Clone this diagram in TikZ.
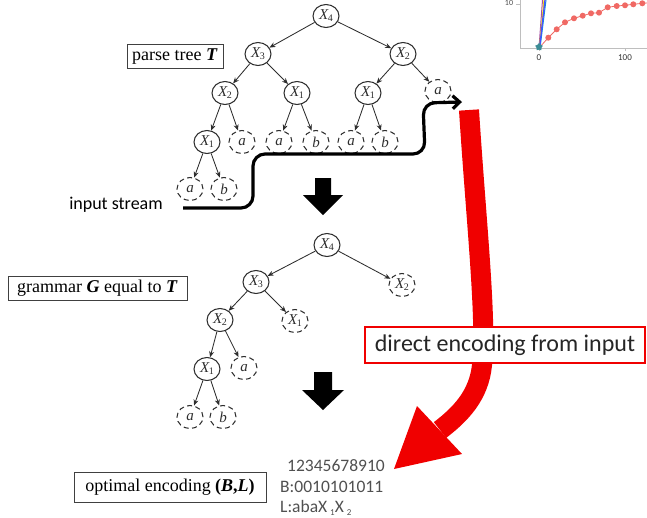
\documentclass[tikz,border=0pt]{standalone}
\usepackage{fontspec}
\setmainfont{Liberation Serif}
\newfontfamily\calfont{Carlito}
\usetikzlibrary{arrows.meta,shapes.geometric}

\definecolor{treeink}{RGB}{45,45,45}
\definecolor{codegray}{RGB}{80,80,80}
\definecolor{axisgray}{RGB}{190,190,190}
\definecolor{dotred}{RGB}{240,105,100}
\definecolor{bigred}{RGB}{240,0,0}
\definecolor{markteal}{RGB}{60,140,150}

\newcommand\Xs[1]{\textit{X}\kern-0.5pt\raisebox{-0.3ex}{\fontsize{10}{10}\selectfont\upshape #1}}
\newcommand\bi[1]{\textbf{\textit{#1}}}

\begin{document}
\begin{tikzpicture}[x=1pt,y=-1pt,
  tn/.style={ellipse, draw=treeink, line width=1.05pt, minimum width=26pt,
             minimum height=23pt, inner sep=0pt, text=treeink,
             font=\fontsize{15}{15}\selectfont\itshape},
  tl/.style={tn, dash pattern=on 5pt off 3.5pt},
  tedge/.style={draw=treeink, line width=0.85pt,
                -{Stealth[length=6pt,width=5pt]}},
  tagbox/.style={draw=black!75, line width=0.8pt, inner sep=0pt,
                 font=\fontsize{18}{18}\selectfont},
  codeline/.style={anchor=west, inner sep=0pt, text=codegray,
                   font=\calfont\fontsize{17.5}{17.5}\selectfont},
  downarrow/.style={fill=black},
]
\useasboundingbox (0,0) rectangle (647,517);

% ---- small plot in the corner ----
\draw[axisgray, line width=1pt] (520,0) -- (520,48) -- (647,48);
\draw[axisgray, line width=0.8pt] (516,4) -- (520,4);
\draw[axisgray, line width=0.8pt] (539,48) -- (539,51) (625,48) -- (625,51);
\node[inner sep=0pt, font=\calfont\fontsize{8}{8}\selectfont, text=black!70] (ylab) at (509,3) {10};
\node[inner sep=0pt, font=\calfont\fontsize{9}{9}\selectfont, text=black!80] (xlab0) at (539,58) {0};
\node[inner sep=0pt, font=\calfont\fontsize{9}{9}\selectfont, text=black!80] (xlab1) at (625,58) {100};
\draw[dotred, line width=0.8pt] (539,48) -- (548.3,37.7) -- (556.7,29.3) -- (565,22.3)
  -- (574,18.3) -- (582.7,15.7) -- (591,13.3) -- (599,12.7) -- (607.7,7.3)
  -- (616.7,6) -- (625,5.3) -- (633.3,4.3) -- (642.3,3.3) -- (647,3);
\foreach \px/\py in {548.3/37.7,556.7/29.3,565/22.3,574/18.3,582.7/15.7,591/13.3,
                     599/12.7,607.7/7.3,616.7/6,625/5.3,633.3/4.3,642.3/3.3}
  \fill[dotred] (\px,\py) circle (3pt);
\draw[violet!70, line width=1pt] (539,48) -- (542.5,0);
\draw[yellow!85!orange, line width=1.2pt] (539.5,48) -- (544,0);
\draw[cyan!80!blue, line width=1pt] (540,48) -- (546,0);
\draw[blue!70, line width=1.3pt] (539.5,48) -- (545,0);
\node[star, star points=5, fill=markteal, minimum size=8pt, inner sep=0pt] (mark) at (539,47) {};

% ---- parse tree T ----
\node[tagbox, minimum width=96pt, minimum height=24pt] (ptag) at (175,56.5) {parse tree \bi{T}};

\node[tn] (t4)  at (326,16)  {\Xs{4}};
\node[tn] (t3)  at (258,54)  {\Xs{3}};
\node[tn] (t2r) at (403,54)  {\Xs{2}};
\node[tn] (t2)  at (225,93)  {\Xs{2}};
\node[tn] (t1m) at (297,93)  {\Xs{1}};
\node[tn] (t1r) at (368,93)  {\Xs{1}};
\node[tl] (tar) at (438,91)  {a};
\node[tn] (t1)  at (207,142) {\Xs{1}};
\node[tl] (la1) at (242,142) {a};
\node[tl] (la2) at (279,142) {a};
\node[tl] (lb2) at (316,142) {b};
\node[tl] (la3) at (351,142) {a};
\node[tl] (lb3) at (385,142) {b};
\node[tl] (la4) at (190,189) {a};
\node[tl] (lb4) at (224,189) {b};

\foreach \p/\c in {t4/t3,t4/t2r,t3/t2,t3/t1m,t2r/t1r,t2r/tar,t2/t1,t2/la1,
                   t1m/la2,t1m/lb2,t1r/la3,t1r/lb3,t1/la4,t1/lb4}
  \draw[tedge] (\p) -- (\c);

% ---- input stream ----
\node[inner sep=0pt, font=\calfont\fontsize{18}{18}\selectfont] (instream) at (116,205) {input stream};
\coordinate (sstart) at (183,208);
\coordinate (send) at (462,102);
\draw[line width=3.2pt, rounded corners=12pt, -{Straight Barb[length=7pt,width=13pt]}]
  (sstart) -- (253,208) -- (253,154) -- (425,154) -- (423,103) -- (send);

% ---- first down arrow ----
\fill[downarrow] (315,178) -- (331,178) -- (331,195) -- (343,195) -- (323,215)
  -- (303,195) -- (315,195) -- cycle;

% ---- grammar G equal to T ----
\node[tagbox, minimum width=179pt, minimum height=24pt] (gtag) at (97.5,288.5) {grammar \bi{G} equal to \bi{T}};

\node[tn] (g4)  at (327,245) {\Xs{4}};
\node[tn] (g3)  at (256,282) {\Xs{3}};
\node[tl] (g2r) at (402,285) {\Xs{2}};
\node[tn] (g2)  at (220,320) {\Xs{2}};
\node[tl] (g1r) at (295,321) {\Xs{1}};
\node[tn] (g1)  at (207,369) {\Xs{1}};
\node[tl] (ga1) at (244,368) {a};
\node[tl] (ga)  at (190,417) {a};
\node[tl] (gb)  at (223,417) {b};

\foreach \p/\c in {g4/g3,g4/g2r,g3/g2,g3/g1r,g2/g1,g2/ga1,g1/ga,g1/gb}
  \draw[tedge] (\p) -- (\c);

% ---- second down arrow ----
\fill[downarrow] (314,372) -- (332,372) -- (332,390) -- (344,390) -- (323,410)
  -- (302,390) -- (314,390) -- cycle;

% ---- direct encoding (big red arrow) ----
\coordinate (rtop) at (469,110);
\coordinate (rbase) at (440,430);
\draw[bigred, line width=20pt]
  (rtop) .. controls (476,220) and (487,320) .. (482,365)
  .. controls (479,395) and (461,414) .. (rbase);
\fill[bigred] (417,406) -- (462,454) -- (394,469) -- cycle;
\node[draw=bigred, line width=1.8pt, fill=white, minimum width=280pt, minimum height=36pt,
      inner sep=0pt, text=black!85, font=\calfont\fontsize{24}{24}\selectfont]
  (direct) at (505,345) {direct encoding from input};

% ---- optimal encoding (B,L) ----
\node[tagbox, minimum width=192pt, minimum height=30pt] (otag) at (170,487) {optimal encoding \textbf{(\textit{B},\textit{L})}};
\node[codeline] (cidx) at (287,466) {12345678910};
\node[codeline] (cb)   at (280,487) {B:0010101011};
\node[codeline] (cl)   at (280,508) {L:abaX\,\raisebox{-0.45ex}{\fontsize{9}{9}\selectfont 1}X\,\raisebox{-0.45ex}{\fontsize{9}{9}\selectfont 2}};
\end{tikzpicture}
\end{document}
